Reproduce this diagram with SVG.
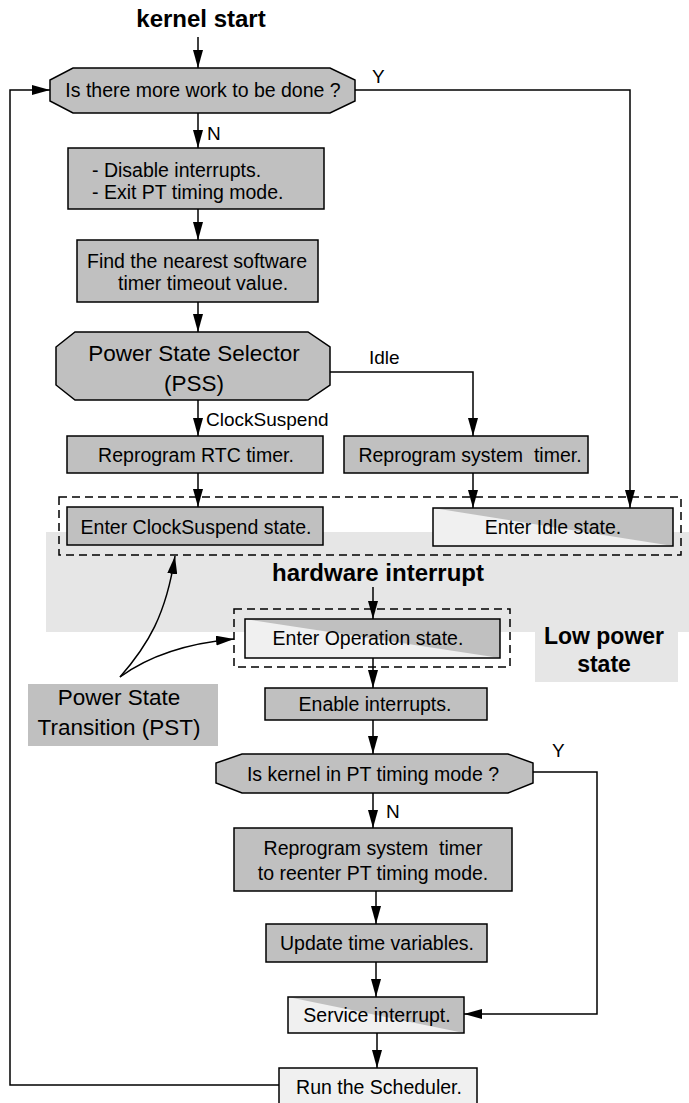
<svg xmlns="http://www.w3.org/2000/svg" width="689" height="1103" viewBox="0 0 689 1103">
<style>
.box{fill:#c0c0c0;stroke:#000;stroke-width:1.5}
.lt{fill:#f0f0f0;stroke:none}
.tri{fill:#c0c0c0;stroke:none}
.ol{fill:none;stroke:#000;stroke-width:1.5}
.t{font-family:"Liberation Sans",Arial,sans-serif;font-size:19.5px;fill:#000;text-anchor:middle}
.s{text-anchor:start}
.big{font-size:22.5px}
.l{font-family:"Liberation Sans",Arial,sans-serif;font-size:19px;fill:#000}
.b{font-family:"Liberation Sans",Arial,sans-serif;font-size:24px;font-weight:bold;fill:#000;text-anchor:middle}
.dash{fill:none;stroke:#000;stroke-width:1.5;stroke-dasharray:8,5}
.c{fill:none;stroke:#000;stroke-width:1.5}
</style>
<defs>
<marker id="ah" markerUnits="userSpaceOnUse" markerWidth="18" markerHeight="10" refX="18" refY="5" orient="auto">
<path d="M0,0 L18,5 L0,10 Z" fill="#000"/>
</marker>
</defs>
<g id="bg">
<path d="M46,532 H689 V632 H678 V682 H535 V632 H46 Z" fill="#e6e6e6"/>
</g>
<g id="title"><text class="b" x="201" y="27">kernel start</text></g>
<g id="hw"><text class="b" x="378" y="581">hardware interrupt</text></g>
<g id="lowpower"><text class="b" x="604" y="644" style="font-size:23px">Low power</text><text class="b" x="604" y="672" style="font-size:23px">state</text></g>
<g id="dash1"><rect class="dash" x="59" y="497" width="622" height="58"/></g>
<g id="dash2"><rect class="dash" x="234" y="609" width="276" height="58"/></g>
<g id="d1"><polygon class="box" points="73,68 330,68 355,80 355,101 330,113 73,113 50,101 50,80"/><text class="t" x="203" y="97">Is there more work to be done ?</text></g>
<g id="b1"><rect class="box" x="68" y="148" width="256" height="61"/><text class="t s" x="92" y="177">- Disable interrupts.</text><text class="t s" x="92" y="199">- Exit PT timing mode.</text></g>
<g id="b2"><rect class="box" x="77" y="240" width="241" height="62"/><text class="t s" x="87" y="268">Find the nearest software</text><text class="t s" x="118" y="290">timer timeout value.</text></g>
<g id="pss"><polygon class="box" points="75,332 308,332 330,347 330,385 308,400 75,400 56,385 56,347"/><text class="t big" x="194" y="361">Power State Selector</text><text class="t big" x="194" y="391">(PSS)</text></g>
<g id="rtc"><rect class="box" x="67" y="436" width="256" height="37"/><text class="t" x="196" y="462">Reprogram RTC timer.</text></g>
<g id="syst"><rect class="box" x="344" y="436" width="244" height="37"/><text class="t" x="470" y="462" xml:space="preserve">Reprogram system  timer.</text></g>
<g id="ecs"><rect class="box" x="67" y="507" width="256" height="38"/><text class="t" x="196" y="534">Enter ClockSuspend state.</text></g>
<g id="eidle"><rect class="lt" x="433" y="508" width="240" height="38"/><polygon class="tri" points="433,508 673,508 673,546"/><rect class="ol" x="433" y="508" width="240" height="38"/><text class="t" x="553" y="534">Enter Idle state.</text></g>
<g id="eop"><rect class="lt" x="245" y="619" width="255" height="39"/><polygon class="tri" points="245,619 500,619 500,658"/><rect class="ol" x="245" y="619" width="255" height="39"/><text class="t" x="368" y="645">Enter Operation state.</text></g>
<g id="pst"><rect x="28" y="684" width="190" height="62" fill="#c0c0c0"/><text class="t big" x="119" y="705">Power State</text><text class="t big" x="119" y="735">Transition (PST)</text></g>
<g id="en"><rect class="box" x="265" y="688" width="222" height="32"/><text class="t" x="375" y="711">Enable interrupts.</text></g>
<g id="d2"><polygon class="box" points="242,754 508,754 533,763 533,783 508,793 242,793 216,783 216,763"/><text class="t" x="373" y="781">Is kernel in PT timing mode ?</text></g>
<g id="b3"><rect class="box" x="234" y="828" width="278" height="63"/><text class="t" x="373" y="855" xml:space="preserve">Reprogram system  timer</text><text class="t" x="373" y="880">to reenter PT timing mode.</text></g>
<g id="upd"><rect class="box" x="266" y="924" width="221" height="38"/><text class="t" x="377" y="950">Update time variables.</text></g>
<g id="svc"><rect class="lt" x="288" y="997" width="176" height="36"/><polygon class="tri" points="288,997 464,997 464,1033"/><rect class="ol" x="288" y="997" width="176" height="36"/><text class="t" x="377" y="1022">Service interrupt.</text></g>
<g id="sched"><rect x="279" y="1068" width="198" height="40" fill="#f0f0f0" stroke="#000" stroke-width="1.5"/><text class="t" x="379" y="1094">Run the Scheduler.</text></g>
<g id="connectors">
<path class="c" d="M198,37 V68" marker-end="url(#ah)"/>
<path class="c" d="M198,113 V148" marker-end="url(#ah)"/>
<path class="c" d="M198,209 V240" marker-end="url(#ah)"/>
<path class="c" d="M198,302 V332" marker-end="url(#ah)"/>
<path class="c" d="M198,400 V436" marker-end="url(#ah)"/>
<path class="c" d="M330,372 H473 V436" marker-end="url(#ah)"/>
<path class="c" d="M355,90 H630 V508" marker-end="url(#ah)"/>
<path class="c" d="M198,473 V507" marker-end="url(#ah)"/>
<path class="c" d="M473,473 V508" marker-end="url(#ah)"/>
<path class="c" d="M373,587 V619" marker-end="url(#ah)"/>
<path class="c" d="M373,658 V688" marker-end="url(#ah)"/>
<path class="c" d="M373,720 V754" marker-end="url(#ah)"/>
<path class="c" d="M373,793 V828" marker-end="url(#ah)"/>
<path class="c" d="M376,891 V924" marker-end="url(#ah)"/>
<path class="c" d="M376,962 V997" marker-end="url(#ah)"/>
<path class="c" d="M377,1033 V1068" marker-end="url(#ah)"/>
<path class="c" d="M533,772 H597 V1014 H464" marker-end="url(#ah)"/>
<path class="c" d="M279,1085 H10 V90 H50" marker-end="url(#ah)"/>
<path class="c" d="M120,677 C148,645 166,615 175,556" marker-end="url(#ah)"/>
<path class="c" d="M120,677 C150,655 190,643 234,639" marker-end="url(#ah)"/>
<text class="l" x="372" y="83">Y</text>
<text class="l" x="207" y="140">N</text>
<text class="l" x="369" y="364">Idle</text>
<text class="l" x="206" y="426">ClockSuspend</text>
<text class="l" x="552" y="757">Y</text>
<text class="l" x="386" y="818">N</text>
</g>
</svg>
